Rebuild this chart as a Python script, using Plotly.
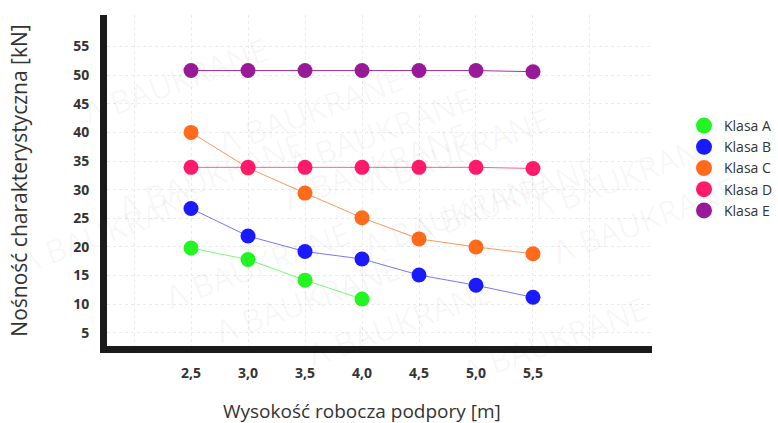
import plotly.graph_objects as go

heights = [2.5, 3.0, 3.5, 4.0, 4.5, 5.0, 5.5]
klasa_a = [19.8, 17.8, 14.2, 10.9]
klasa_b = [26.7, 21.9, 19.2, 17.9, 15.1, 13.3, 11.2]
klasa_c = [40.0, 33.8, 29.4, 25.1, 21.4, 20.0, 18.8]
klasa_d = [33.9, 33.9, 33.9, 33.9, 33.9, 33.9, 33.7]
klasa_e = [50.8, 50.8, 50.8, 50.8, 50.8, 50.8, 50.6]
series_names = ["Klasa A", "Klasa B", "Klasa C", "Klasa D", "Klasa E"]
series_values = [klasa_a, klasa_b, klasa_c, klasa_d, klasa_e]
colors = ["#22f522", "#1a1aff", "#ff6b1a", "#ff1a6b", "#991a99"]
line_colors = ["rgba(34,245,34,0.6)", "rgba(26,26,255,0.6)", "rgba(255,107,26,0.7)",
               "rgba(255,26,107,0.7)", "rgba(153,26,153,0.9)"]
x_tick_vals = [2.0, 2.5, 3.0, 3.5, 4.0, 4.5, 5.0, 5.5, 6.0]
x_tick_text = ["", "2,5", "3,0", "3,5", "4,0", "4,5", "5,0", "5,5", ""]
y_tick_vals = [5, 10, 15, 20, 25, 30, 35, 40, 45, 50, 55]

W, H = 778, 423
L, R, T, B = 107, 126, 15, 77
pw, ph = W - L - R, H - T - B

fig = go.Figure()

# watermark (decorative)
wm_centers = [(75, 25), (210, 55), (380, 75), (558, 95), (725, 120),
              (110, 175), (275, 165), (455, 213), (605, 255), (745, 275),
              (10, 285), (157, 320), (307, 355), (500, 378), (655, 395)]
for cx, cy in wm_centers:
    fig.add_annotation(x=(cx - L) / pw, y=(H - B - cy) / ph, xref="paper", yref="paper",
                       text="Λ BAUKRANE", showarrow=False, textangle=-20,
                       font=dict(family="Open Sans", size=32, color="rgba(0,0,0,0.04)"))

for name, vals, col, lc in zip(series_names, series_values, colors, line_colors):
    fig.add_trace(go.Scatter(x=heights[:len(vals)], y=vals, mode="lines+markers", name=name,
                             showlegend=False, line=dict(color=lc, width=1),
                             marker=dict(color=col, size=15)))
for name, col in zip(series_names, colors):
    fig.add_trace(go.Scatter(x=[None], y=[None], mode="markers", name=name,
                             marker=dict(color=col, size=20)))

fig.add_annotation(x=(362 - L) / pw, y=(H - B - 411) / ph, xref="paper", yref="paper",
                   yanchor="middle", xanchor="center",
                   text="Wysokość robocza podpory [m]", showarrow=False,
                   font=dict(family="Open Sans", size=19, color="#333333"))

fig.update_layout(
    width=W, height=H, margin=dict(l=L, r=R, t=T, b=B, autoexpand=False),
    paper_bgcolor="white", plot_bgcolor="white",
    font=dict(family="Open Sans", color="#333333"),
    legend=dict(x=(684 - L) / pw, y=(H - B - 110) / ph, xanchor="left", yanchor="top",
                font=dict(size=14, color="#333333"), itemsizing="trace",
                bgcolor="rgba(0,0,0,0)"),
    xaxis=dict(range=[1.763, 6.544], tickvals=x_tick_vals, ticktext=x_tick_text,
               showline=True, linecolor="#1a1a1a", linewidth=7, automargin=False,
               showgrid=True, gridcolor="#ebebeb", griddash="dot", gridwidth=1,
               zeroline=False, ticks="", ticklabelstandoff=8,
               tickfont=dict(family="Open Sans", size=14, color="#333333", weight="bold")),
    yaxis=dict(range=[2.7, 60.5], tickvals=y_tick_vals, automargin=False,
               showline=True, linecolor="#1a1a1a", linewidth=7,
               showgrid=True, gridcolor="#ebebeb", griddash="dot", gridwidth=1,
               zeroline=False, ticks="", ticklabelstandoff=8,
               title=dict(text="Nośność charakterystyczna [kN]", standoff=42,
                          font=dict(family="Open Sans", size=21, color="#333333")),
               tickfont=dict(family="Open Sans", size=14, color="#333333", weight="bold")),
)

fig.write_html("out.html", config={"displayModeBar": False},
               post_script="document.body.style.margin='0';document.body.style.overflow='hidden';")
